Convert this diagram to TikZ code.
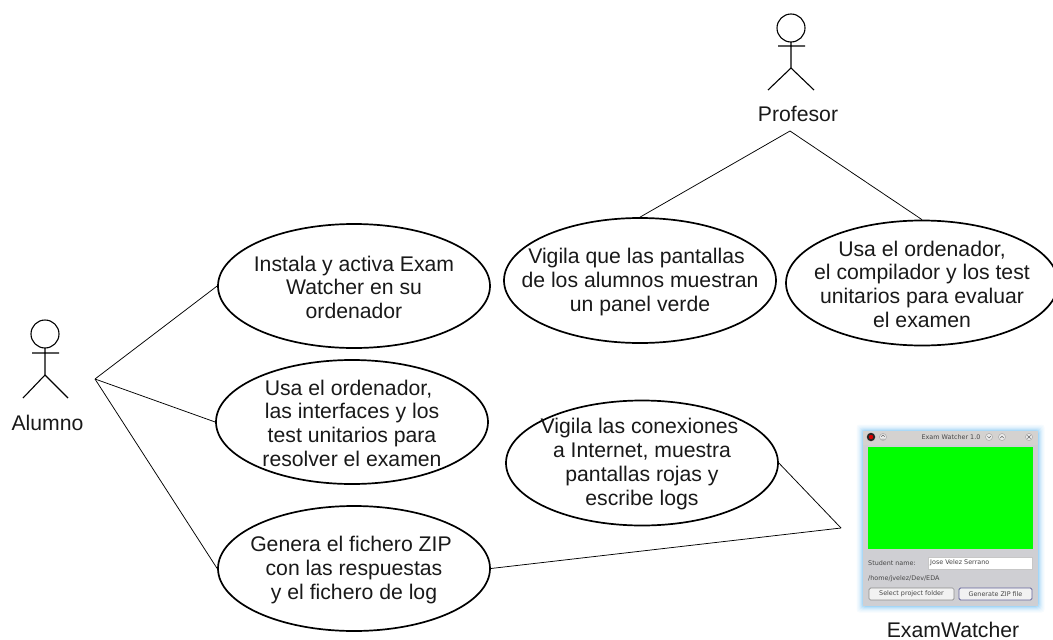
\documentclass[tikz,border=0pt]{standalone}
\usepackage{fontspec}
\setmainfont{Liberation Sans}
\newfontfamily\uifont{DejaVu Sans}
\usetikzlibrary{shapes.geometric}
\newcommand{\ftxt}{\fontsize{21.2}{23.9}\selectfont}
\newcommand{\fsmall}{\uifont\fontsize{6.4}{8}\selectfont}
\newcommand{\shl}[1]{\hspace*{#1pt}}
\newcommand{\lift}{\rule{0pt}{18pt}}
\definecolor{winbg}{HTML}{CFCFD3}
\definecolor{titlebg}{HTML}{D4D2D0}
\definecolor{glow}{HTML}{8CCBF5}
\tikzset{
  x=1pt,y=-1pt,
  usecase/.style={ellipse,draw=black,line width=1.7pt,fill=white,inner sep=-50pt,align=center,font=\ftxt,text=black!90,minimum width=272pt,minimum height=125pt},
  link/.style={draw=black,line width=0.75pt},
  stick/.style={draw=black,line width=1.1pt},
  lbl/.style={font=\ftxt,inner sep=0pt,text=black!90},
  tiny/.style={font=\fsmall,inner sep=0pt,text=black!72},
  wbtn/.style={draw=black!45,fill=black!5,rounded corners=1.5pt,line width=0.7pt,inner sep=0pt,font=\fsmall,text=black!72,minimum height=12pt},
  wdot/.style={circle,draw=black!35,fill=black!8,minimum size=7pt,inner sep=0pt,line width=0.5pt},
  glyph/.style={draw=black!60,line width=0.5pt},
}
\begin{document}
\begin{tikzpicture}
\useasboundingbox (0,0) rectangle (1053,640);
\clip (0,0) rectangle (1053,640);
\coordinate (alumnoHub) at (95,379);
\coordinate (profHub) at (790,131);
\coordinate (watchHub) at (841,528);
% use cases
\node[usecase,minimum height=124pt] (uc1) at (354,286) {\lift Instala y activa Exam\\Watcher en su\\ordenador};
\node[usecase,minimum height=124pt] (uc2) at (352,422) {\lift Usa el ordenador,\shl{7}\\las interfaces y los\shl{7}\\test unitarios para\\resolver el examen};
\node[usecase] (uc3) at (354,568.5) {\lift Genera el fichero ZIP\shl{6}\\con las respuestas\shl{6}\\y el fichero de log};
\node[usecase] (uc4) at (640,280.5) {\lift Vigila que las pantallas\shl{7}\\de los alumnos muestran\shl{7}\\un panel verde};
\node[usecase] (uc5) at (922,283) {\lift Usa el ordenador,\\el compilador y los test\shl{9}\\unitarios para evaluar\\el examen};
\node[usecase] (uc6) at (642,463) {\lift Vigila las conexiones\shl{5}\\a Internet, muestra\shl{5}\\pantallas rojas y\\escribe logs};
% connectors
\draw[link] (alumnoHub) -- (uc1.west);
\draw[link] (alumnoHub) -- (uc2.west);
\draw[link] (alumnoHub) -- (uc3.west);
\draw[link] (profHub) -- (uc4.north);
\draw[link] (profHub) -- (uc5.north);
\draw[link] (watchHub) -- (uc6.east);
\draw[link] (watchHub) -- (uc3.east);
% actors
\draw[stick] (791,28) circle (14);
\draw[stick] (791,42) -- (791,68) (778,46) -- (805,46) (768,90) -- (791,68) -- (814,90);
\node[lbl] (profLabel) at (798,114) {Profesor};
\draw[stick] (45,334) circle (14);
\draw[stick] (45,348) -- (45,375) (32,353) -- (59,353) (23,398) -- (45,375) -- (68,398);
\node[lbl] (alumnoLabel) at (47.5,423) {Alumno};
% window
\foreach \g/\c in {6.5/8,5.5/14,4.5/22,3.5/34,2.5/48,1.5/66,0.5/85}{
  \fill[glow!\c!white,rounded corners=3pt] (863-\g,431-\g) rectangle (1038+\g,606+\g);
}
\fill[winbg] (863,431) rectangle (1038,606);
\fill[titlebg] (863,431) rectangle (1038,445);
\fill[green] (868,447) rectangle (1033,549);
\node[tiny] (wintitle) at (951,437.5) {Exam Watcher 1.0};
\node[circle,fill=black!85,minimum size=8.5pt,inner sep=0pt] (dot0) at (871,437) {};
\fill[red!85!black] (dot0.center) circle (2.2);
\node[wdot] (dot1) at (883,437) {};
\node[wdot] (dot2) at (989,437) {};
\node[wdot] (dot3) at (1002,437) {};
\node[wdot] (dot4) at (1029,437) {};
\draw[glyph] (881.3,436.6) -- (883,435) -- (884.7,436.6) (881.3,439) -- (884.7,439);
\draw[glyph] (987.3,436.2) -- (989,437.9) -- (990.7,436.2);
\draw[glyph] (1000.3,437.9) -- (1002,436.2) -- (1003.7,437.9);
\draw[glyph] (1027.4,435.4) -- (1030.6,438.6) (1027.4,438.6) -- (1030.6,435.4);
\node[tiny,anchor=west] (snlabel) at (868,563) {Student name:};
\node[draw=black!22,fill=white,minimum width=104pt,minimum height=12pt,inner sep=0pt,line width=0.5pt] (field) at (980,563) {};
\node[tiny,anchor=west] (fieldtext) at (930,563) {Jose Velez Serrano};
\node[tiny,anchor=west] (pathtext) at (868,579) {/home/jvelez/Dev/EDA};
\node[wbtn,minimum width=85pt] (btn1) at (911.5,594) {Select project folder};
\node[wbtn,draw=blue!35!black!60,line width=0.9pt,minimum width=73pt] (btn2) at (995.5,594) {Generate ZIP file};
\node[lbl] (watchLabel) at (953,630) {ExamWatcher};
\end{tikzpicture}
\end{document}
